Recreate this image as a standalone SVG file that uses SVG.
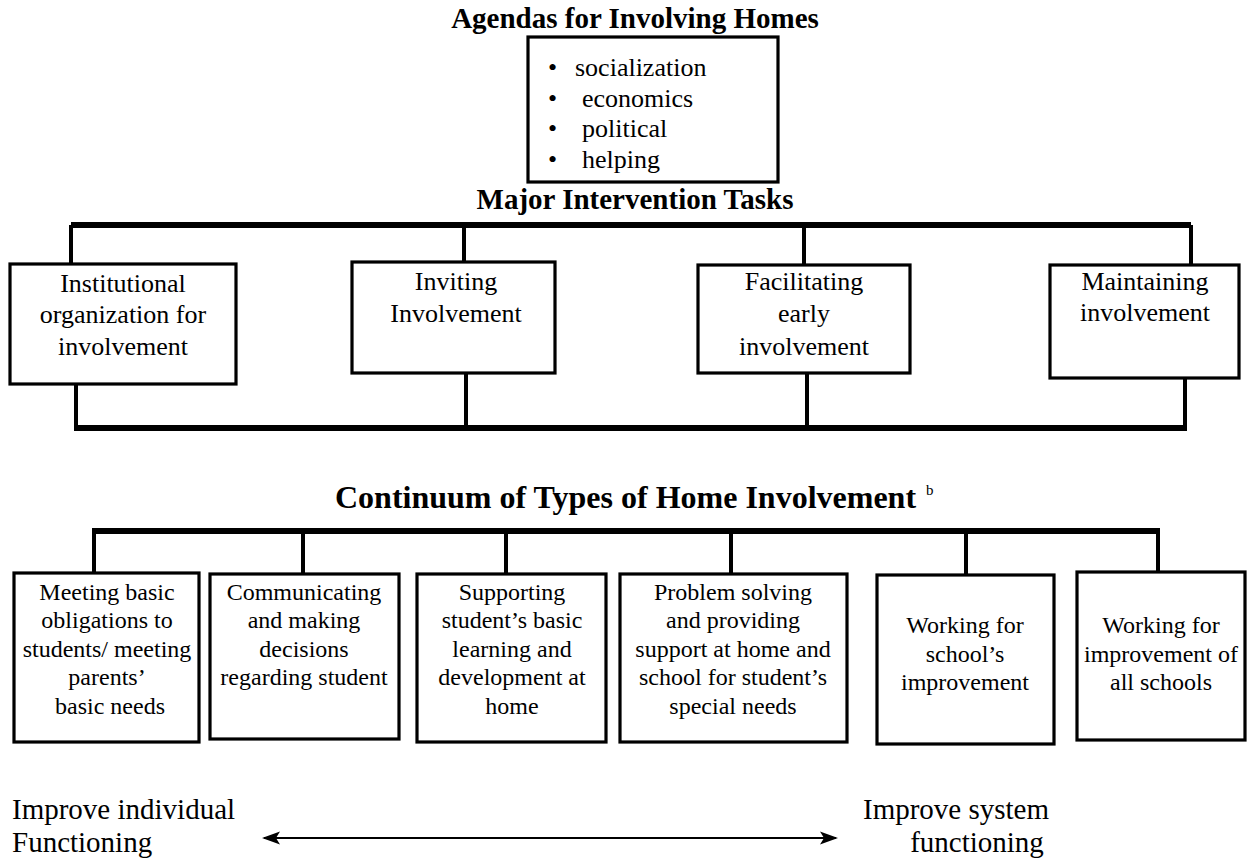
<svg xmlns="http://www.w3.org/2000/svg" width="1248" height="860" viewBox="0 0 1248 860">
<style>
text{font-family:"Liberation Serif","Times New Roman",serif;fill:#000}
.h{font-weight:bold;font-size:29px;text-anchor:middle}
.m{font-size:26px;text-anchor:middle}
.st{text-anchor:start}
.s{font-size:24px;text-anchor:middle}
.l{font-size:29px}
.box{fill:#fff;stroke:#000;stroke-width:3.2}
.bus{fill:none;stroke:#000;stroke-width:6}
.drop{fill:none;stroke:#000;stroke-width:4}
.arr{fill:none;stroke:#000;stroke-width:2.2}
</style>
<defs>
<marker id="ah" viewBox="-20 -8 24 16" refX="0" refY="0" markerWidth="24" markerHeight="16" markerUnits="userSpaceOnUse" orient="auto-start-reverse">
<path d="M2,0 L-16,-6.5 L-12,0 L-16,6.5 Z" fill="#000"/>
</marker>
</defs>
<rect width="1248" height="860" fill="#fff"/>

<g id="connectors">
<path class="bus" d="M71,225 H1191"/>
<path class="drop" d="M71,225 V264 M464,225 V262 M804,225 V265 M1191,225 V265"/>
<path class="drop" d="M76,384 V428 M466,373 V428 M807,373 V428 M1185,378 V428"/>
<path class="bus" d="M74,428 H1187"/>
<path class="bus" d="M92,531 H1160"/>
<path class="drop" d="M94,531 V573 M303,531 V574 M506,531 V574 M731,531 V574 M966,531 V575 M1158,531 V572"/>
<line class="arr" x1="264" y1="838" x2="836" y2="838" marker-start="url(#ah)" marker-end="url(#ah)"/>
</g>

<g id="agendas">
<text class="h" x="635" y="28">Agendas for Involving Homes</text>
<rect class="box" x="528" y="37" width="250" height="145"/>
<text class="m st" x="548" y="76">•</text>
<text class="m st" x="575" y="76">socialization</text>
<text class="m st" x="548" y="107">•</text>
<text class="m st" x="582" y="107">economics</text>
<text class="m st" x="548" y="137">•</text>
<text class="m st" x="582" y="137">political</text>
<text class="m st" x="548" y="168">•</text>
<text class="m st" x="582" y="168">helping</text>
</g>

<g id="tasks-title">
<text class="h" x="635" y="209">Major Intervention Tasks</text>
</g>

<g id="task1">
<rect class="box" x="10" y="264" width="226" height="120"/>
<text class="m" x="123" y="292">Institutional</text>
<text class="m" x="123" y="323">organization for</text>
<text class="m" x="123" y="355">involvement</text>
</g>
<g id="task2">
<rect class="box" x="352" y="262" width="203" height="111"/>
<text class="m" x="456" y="290">Inviting</text>
<text class="m" x="456" y="322">Involvement</text>
</g>
<g id="task3">
<rect class="box" x="698" y="265" width="212" height="108"/>
<text class="m" x="804" y="290">Facilitating</text>
<text class="m" x="804" y="322">early</text>
<text class="m" x="804" y="355">involvement</text>
</g>
<g id="task4">
<rect class="box" x="1050" y="265" width="189" height="113"/>
<text class="m" x="1145" y="290">Maintaining</text>
<text class="m" x="1145" y="321">involvement</text>
</g>

<g id="continuum-title">
<text x="335" y="508" style="font-weight:bold;font-size:32px">Continuum of Types of Home Involvement</text>
<text x="926" y="495" style="font-size:15px">b</text>
</g>

<g id="type1">
<rect class="box" x="14" y="573" width="185" height="169"/>
<text class="s" x="107" y="600">Meeting basic</text>
<text class="s" x="107" y="628">obligations to</text>
<text class="s" x="107" y="657">students/ meeting</text>
<text class="s" x="107" y="685">parents’</text>
<text class="s" x="110" y="714">basic needs</text>
</g>
<g id="type2">
<rect class="box" x="210" y="574" width="189" height="165"/>
<text class="s" x="304" y="600">Communicating</text>
<text class="s" x="304" y="628">and making</text>
<text class="s" x="304" y="657">decisions</text>
<text class="s" x="304" y="685">regarding student</text>
</g>
<g id="type3">
<rect class="box" x="417" y="574" width="189" height="168"/>
<text class="s" x="512" y="600">Supporting</text>
<text class="s" x="512" y="628">student’s basic</text>
<text class="s" x="512" y="657">learning and</text>
<text class="s" x="512" y="685">development at</text>
<text class="s" x="512" y="714">home</text>
</g>
<g id="type4">
<rect class="box" x="620" y="574" width="227" height="168"/>
<text class="s" x="733" y="600">Problem solving</text>
<text class="s" x="733" y="628">and providing</text>
<text class="s" x="733" y="657">support at home and</text>
<text class="s" x="733" y="685">school for student’s</text>
<text class="s" x="733" y="714">special needs</text>
</g>
<g id="type5">
<rect class="box" x="877" y="575" width="177" height="169"/>
<text class="s" x="965" y="633">Working for</text>
<text class="s" x="965" y="662">school’s</text>
<text class="s" x="965" y="690">improvement</text>
</g>
<g id="type6">
<rect class="box" x="1077" y="572" width="168" height="168"/>
<text class="s" x="1161" y="633">Working for</text>
<text class="s" x="1161" y="662">improvement of</text>
<text class="s" x="1161" y="690">all schools</text>
</g>

<g id="endpoints">
<text class="l" x="12" y="819">Improve individual</text>
<text class="l" x="12" y="852">Functioning</text>
<text class="l" x="956" y="819" text-anchor="middle">Improve system</text>
<text class="l" x="977" y="852" text-anchor="middle">functioning</text>
</g>
</svg>
